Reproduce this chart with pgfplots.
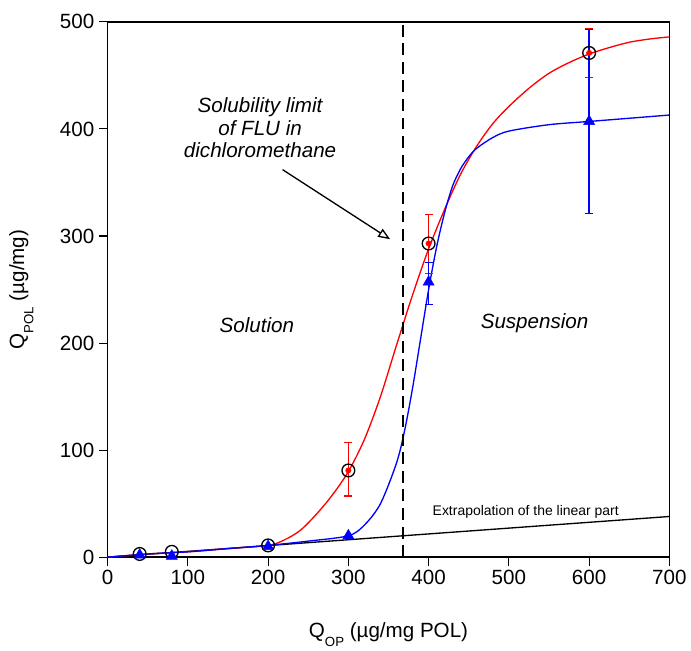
\documentclass[border=0pt]{standalone}
\usepackage{pgfplots}
\pgfplotsset{compat=1.18}
\usepackage{fontspec}
\setmainfont{Liberation Sans}
\usetikzlibrary{arrows.meta}
\begin{document}
\begin{tikzpicture}
\begin{axis}[
  scale only axis,
  width=423pt, height=403pt,
  xmin=0, xmax=700, ymin=0, ymax=500,
  xtick={0,100,...,700}, ytick={0,100,...,500},
  tick align=outside, tick pos=left,
  major tick length=6.5pt,
  tick style={black, line width=0.8pt},
  axis line style={line width=1.1pt},
  /pgf/number format/assume math mode=true,
  ticklabel style={font=\fontsize{15.5}{18}\selectfont},
  xlabel={Q\raisebox{-7pt}{\fontsize{10}{12}\selectfont OP} (µg/mg POL)},
  ylabel={Q\raisebox{-7pt}{\fontsize{10}{12}\selectfont POL} (µg/mg)},
  label style={font=\fontsize{15.5}{18}\selectfont},
  xlabel shift=21pt,
  ylabel shift=13pt,
  clip=false,
]
% extrapolation line
\addplot[black, line width=1pt] coordinates {(0,0) (700,38)};
% red curve
\addplot[red, line width=1pt, smooth] coordinates {
(0,0) (50,3) (100,5) (150,8) (200,11) (220,16) (240,25) (260,40) (280,58) (300,80)
(320,110) (340,150) (360,198) (380,245) (400,288) (420,325) (440,358) (460,384)
(480,405) (500,421) (525,438) (550,452) (575,462) (600,470) (625,476) (650,481) (675,484) (700,486)};
% blue curve
\addplot[blue, line width=1pt, smooth] coordinates {
(0,0) (50,3) (100,5) (150,8) (200,11) (250,15) (300,20) (320,30) (340,50) (360,88)
(370,118) (380,158) (390,204) (400,250) (410,290) (420,322) (430,347) (440,363)
(450,374) (460,382) (480,392) (500,398) (550,404) (600,407) (650,410) (700,413)};
% red error bars (circle series)
\addplot[red, only marks, mark=none,
  error bars/.cd, y dir=both, y explicit,
  error bar style={red, line width=1pt}, error mark options={draw=red, line width=1pt, rotate=90, mark size=3pt}]
  coordinates {
  (300,81) += (0,26) -= (0,24)
  (400,293) += (0,27) -= (0,28)
  (600,471) += (0,23) -= (0,23)
  };
% blue error bars (triangle series)
\addplot[blue, only marks, mark=none,
  error bars/.cd, y dir=both, y explicit,
  error bar style={blue, line width=1pt}, error mark options={draw=blue, line width=1pt, rotate=90, mark size=3pt}]
  coordinates {
  (400,257) += (0,18) -= (0,21)
  (600,407) += (0,86) -= (0,86)
  };
% circles
\addplot[only marks, mark=o, mark size=4.8pt, mark options={draw=black, line width=1pt}]
  coordinates {(40,3) (80,5) (200,11) (300,81) (400,293) (600,471)};
% triangles
\addplot[only marks, mark=triangle*, mark size=4.8pt, mark options={draw=blue, fill=blue}]
  coordinates {(40,2) (80,1) (200,10) (300,20) (400,257) (600,407)};
% dashed vertical
\addplot[black, line width=1.1pt, dash pattern=on 9pt off 5pt] coordinates {(368,0) (368,500)};
% annotations
\node[font=\itshape\fontsize{15.5}{17}\selectfont, align=center] at (axis cs:190,401) {Solubility limit\\of FLU in\\dichloromethane};
\draw[-{Triangle[open, length=9pt, width=7pt]}, line width=1pt] (axis cs:218,362) -- (axis cs:352,297);
\node[font=\itshape\fontsize{15.5}{18}\selectfont] at (axis cs:186,217) {Solution};
\node[font=\itshape\fontsize{15.5}{18}\selectfont] at (axis cs:532,219) {Suspension};
\node[font=\fontsize{10.5}{12}\selectfont] at (axis cs:521,42) {Extrapolation of the linear  part};
\end{axis}
\path ([xshift=-81pt,yshift=-68.25pt]current axis.south west) rectangle ([xshift=14.25pt,yshift=16.5pt]current axis.north east);
\end{tikzpicture}
\end{document}
